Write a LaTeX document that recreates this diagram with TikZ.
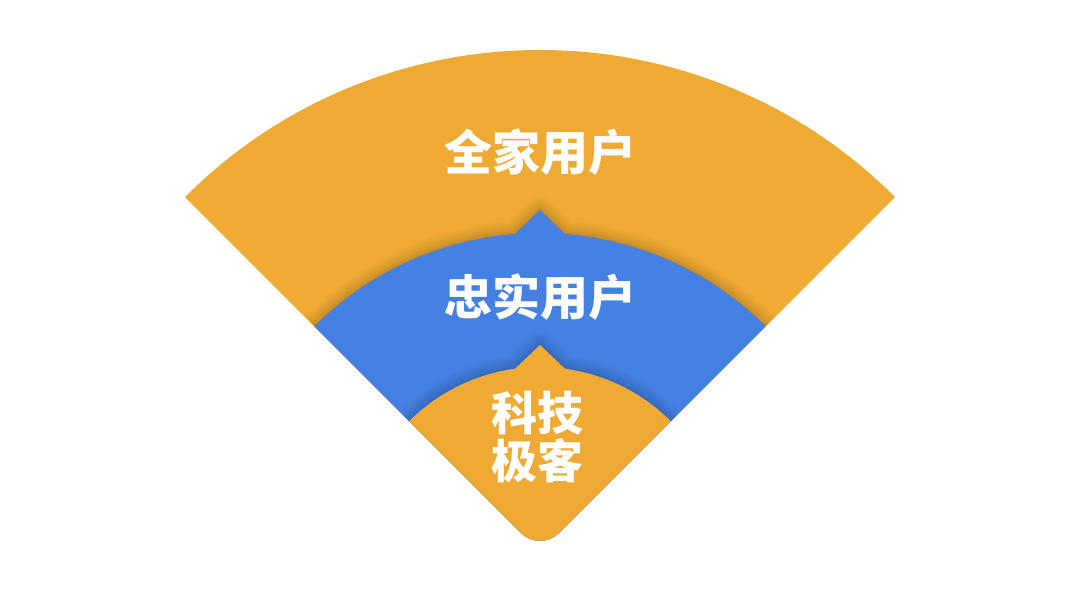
\documentclass[tikz,border=0pt]{standalone}
\usepackage{fontspec}
\newfontfamily\cjk{Noto Sans CJK SC}
\usepackage{tikz}
\usetikzlibrary{calc}
\definecolor{fanorange}{HTML}{EEAA33}
\definecolor{fanblue}{HTML}{4481E2}
\tikzstyle{ringlabel} = [text=white, font=\cjk\bfseries\fontsize{48}{50}\selectfont, align=center, inner sep=0pt]
\tikzstyle{softshadow} = [draw=black, line join=round, fill=none]
% the three sectors, drawn around the apex
\newcommand\outerfan{(225:502) [rounded corners=27pt] -- (0,0) [sharp corners] -- (315:502) arc[start angle=315,end angle=225,radius=502] -- cycle}
\newcommand\middlefan{(225:319) [rounded corners=27pt] -- (0,0) [sharp corners] -- (315:319) arc[start angle=315,end angle=274.5,radius=319] -- (0,-342) -- (265.5:319) arc[start angle=265.5,end angle=225,radius=319] -- cycle}
\newcommand\innerfan{(225:185) [rounded corners=27pt] -- (0,0) [sharp corners] -- (315:185) arc[start angle=315,end angle=277.8,radius=185] -- (0,-207) -- (262.2:185) arc[start angle=262.2,end angle=225,radius=185] -- cycle}

\begin{document}
\begin{tikzpicture}[x=1pt,y=-1pt]
  \useasboundingbox (0,0) rectangle (1080,608);
  \begin{scope}[shift={(540,552)}]
    \fill[fanorange] \outerfan;
    \begin{scope}
      \clip \outerfan;
      \foreach \w/\o in {26/0.025,20/0.03,14/0.035,8/0.04,3/0.05}
        \draw[softshadow, line width=\w pt, opacity=\o] \middlefan;
      \fill[fanblue] \middlefan;
      \foreach \w/\o in {26/0.025,20/0.03,14/0.035,8/0.04,3/0.05}
        \draw[softshadow, line width=\w pt, opacity=\o] \innerfan;
      \fill[fanorange] \innerfan;
    \end{scope}
  \end{scope}
  \node[ringlabel] (all) at (540,152) {全家用户};
  \node[ringlabel] (loyal) at (540,297) {忠实用户};
  \node[ringlabel, font=\cjk\bfseries\fontsize{46}{48}\selectfont] (geek) at (537,437) {科技\\极客};
\end{tikzpicture}
\end{document}
